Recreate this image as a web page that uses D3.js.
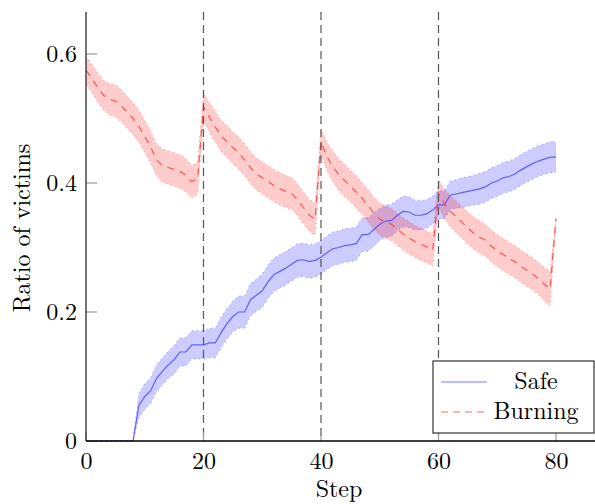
<!DOCTYPE html>
<html>
<head>
<meta charset="utf-8">
<script src="https://cdn.jsdelivr.net/npm/d3@7"></script>
<style>
  body { margin: 0; background: #fff; }
</style>
</head>
<body>
<svg id="chart" width="595" height="504"></svg>
<script>
// step index 0..80
var steps = d3.range(0, 81);

var safeMean = [
  0, 0, 0, 0, 0, 0, 0, 0, 0, 0.055,
  0.069, 0.078, 0.097, 0.108, 0.118, 0.126, 0.138, 0.138, 0.149, 0.149,
  0.149, 0.152, 0.152, 0.168, 0.182, 0.193, 0.200, 0.200, 0.219, 0.226,
  0.233, 0.247, 0.258, 0.263, 0.268, 0.274, 0.280, 0.281, 0.278, 0.280,
  0.285, 0.292, 0.298, 0.300, 0.303, 0.304, 0.306, 0.320, 0.320, 0.328,
  0.336, 0.341, 0.342, 0.350, 0.356, 0.355, 0.350, 0.350, 0.352, 0.358,
  0.366, 0.366, 0.381, 0.383, 0.385, 0.387, 0.389, 0.391, 0.394, 0.400,
  0.403, 0.408, 0.410, 0.414, 0.420, 0.425, 0.430, 0.434, 0.437, 0.440,
  0.440
];
var safeStd = [
  0, 0, 0, 0, 0, 0, 0, 0, 0, 0.019,
  0.020, 0.020, 0.021, 0.021, 0.021, 0.022, 0.022, 0.022, 0.022, 0.022,
  0.022, 0.023, 0.023, 0.024, 0.024, 0.024, 0.025, 0.025, 0.025, 0.025,
  0.026, 0.026, 0.026, 0.026, 0.026, 0.026, 0.026, 0.026, 0.026, 0.026,
  0.026, 0.026, 0.026, 0.026, 0.026, 0.026, 0.026, 0.026, 0.026, 0.026,
  0.025, 0.025, 0.025, 0.024, 0.024, 0.024, 0.023, 0.023, 0.022, 0.022,
  0.022, 0.022, 0.022, 0.022, 0.023, 0.023, 0.023, 0.024, 0.024, 0.024,
  0.024, 0.024, 0.024, 0.024, 0.024, 0.024, 0.024, 0.024, 0.024, 0.024,
  0.024
];
var burnMean = [
  0.575, 0.562, 0.548, 0.536, 0.530, 0.527, 0.520, 0.510, 0.500, 0.488,
  0.472, 0.456, 0.436, 0.427, 0.424, 0.421, 0.418, 0.412, 0.402, 0.407,
  0.518, 0.502, 0.487, 0.473, 0.464, 0.455, 0.446, 0.436, 0.424, 0.414,
  0.408, 0.402, 0.396, 0.391, 0.387, 0.384, 0.374, 0.362, 0.350, 0.344,
  0.464, 0.441, 0.426, 0.413, 0.404, 0.395, 0.386, 0.376, 0.365, 0.353,
  0.344, 0.339, 0.336, 0.328, 0.321, 0.315, 0.309, 0.305, 0.301, 0.296,
  0.384, 0.368, 0.356, 0.348, 0.339, 0.330, 0.322, 0.316, 0.311, 0.302,
  0.295, 0.289, 0.283, 0.278, 0.271, 0.265, 0.259, 0.252, 0.243, 0.236,
  0.345
];
var burnStd = [
  0.022, 0.022, 0.023, 0.023, 0.024, 0.025, 0.025, 0.025, 0.025, 0.025,
  0.025, 0.025, 0.025, 0.026, 0.026, 0.026, 0.026, 0.026, 0.025, 0.025,
  0.022, 0.023, 0.024, 0.024, 0.025, 0.025, 0.025, 0.025, 0.025, 0.025,
  0.025, 0.025, 0.025, 0.025, 0.025, 0.025, 0.025, 0.025, 0.025, 0.025,
  0.018, 0.022, 0.024, 0.025, 0.025, 0.025, 0.025, 0.025, 0.025, 0.025,
  0.025, 0.025, 0.025, 0.025, 0.025, 0.025, 0.025, 0.025, 0.025, 0.025,
  0.021, 0.023, 0.024, 0.025, 0.025, 0.025, 0.025, 0.025, 0.025, 0.025,
  0.025, 0.025, 0.025, 0.025, 0.025, 0.025, 0.025, 0.025, 0.026, 0.027,
  0.005
];
var xTicks = [0, 20, 40, 60, 80];
var yTicks = [0, 0.2, 0.4, 0.6];
var markers = [20, 40, 60];
var seriesNames = ["Safe", "Burning"];

var FONT = "'Latin Modern Roman'";
var FS = "24px";

var svg = d3.select("#chart");

var x = d3.scaleLinear().domain([0, 80]).range([86, 556]);
var y = d3.scaleLinear().domain([0, 0.6]).range([441, 54]);
var yTop = 12, xRight = 595;

function rows(mean, std) {
  return steps.map(function(s, i) { return {s: s, m: mean[i], d: std[i]}; });
}
var safe = rows(safeMean, safeStd);
var burn = rows(burnMean, burnStd);

var area = d3.area()
    .x(function(d) { return x(d.s); })
    .y0(function(d) { return y(d.m - d.d); })
    .y1(function(d) { return y(d.m + d.d); });
var line = d3.line()
    .x(function(d) { return x(d.s); })
    .y(function(d) { return y(d.m); });
var upper = d3.line().x(function(d) { return x(d.s); }).y(function(d) { return y(d.m + d.d); });
var lower = d3.line().x(function(d) { return x(d.s); }).y(function(d) { return y(d.m - d.d); });

var plot = svg.append("g");

// bands
[[safe, "#0000ff", "#2222ff"], [burn, "#ff0000", "#ff2222"]].forEach(function(c) {
  plot.append("path").attr("d", area(c[0]))
      .attr("fill", c[1]).attr("fill-opacity", 0.2).attr("stroke", "none");
  [upper, lower].forEach(function(g) {
    plot.append("path").attr("d", g(c[0]))
        .attr("fill", "none").attr("stroke", c[2]).attr("stroke-opacity", 0.45)
        .attr("stroke-width", 1).attr("stroke-dasharray", "1,4");
  });
});

// mean lines
plot.append("path").attr("d", line(safe))
    .attr("fill", "none").attr("stroke", "#4d4dff").attr("stroke-opacity", 0.85).attr("stroke-width", 1.2);
plot.append("path").attr("d", line(burn))
    .attr("fill", "none").attr("stroke", "#ff4040").attr("stroke-opacity", 0.85)
    .attr("stroke-width", 1.2).attr("stroke-dasharray", "7,6");

// vertical markers
plot.selectAll(".marker").data(markers).enter().append("line")
    .attr("x1", function(d) { return x(d); }).attr("x2", function(d) { return x(d); })
    .attr("y1", yTop).attr("y2", y(0))
    .attr("stroke", "#555").attr("stroke-width", 1.2).attr("stroke-dasharray", "8,5");

// axes
var xAxis = d3.axisBottom(x).tickValues(xTicks).tickSize(0).tickPadding(11).tickFormat(d3.format("d"));
var yAxis = d3.axisLeft(y).tickValues(yTicks).tickSize(0).tickPadding(9)
    .tickFormat(function(d) { return d === 0 ? "0" : d3.format(".1f")(d); });

var gx = svg.append("g").attr("transform", "translate(0," + y(0) + ")").call(xAxis);
var gy = svg.append("g").attr("transform", "translate(" + x(0) + ",0)").call(yAxis);
[gx, gy].forEach(function(g) {
  g.attr("font-family", null).attr("font-size", null);
  g.select(".domain").remove();
  g.selectAll("text").style("font-size", FS).style("font-family", FONT);
});
gy.selectAll("text").attr("dy", "0.3em");

// inner ticks
svg.selectAll(".xt").data(xTicks).enter().append("line")
    .attr("x1", function(d) { return x(d); }).attr("x2", function(d) { return x(d); })
    .attr("y1", y(0)).attr("y2", y(0) - 9).attr("stroke", "#999").attr("stroke-width", 1.2);
svg.selectAll(".yt").data(yTicks).enter().append("line")
    .attr("x1", x(0)).attr("x2", x(0) + 11)
    .attr("y1", function(d) { return y(d); }).attr("y2", function(d) { return y(d); })
    .attr("stroke", "#999").attr("stroke-width", 1.2);

svg.append("line").attr("x1", x(0)).attr("x2", x(0)).attr("y1", yTop).attr("y2", y(0))
    .attr("stroke", "#444").attr("stroke-width", 1.5);
svg.append("line").attr("x1", x(0)).attr("x2", xRight).attr("y1", y(0)).attr("y2", y(0))
    .attr("stroke", "#000").attr("stroke-width", 1.5);

// axis labels
svg.append("text").attr("x", 339).attr("y", 497).attr("text-anchor", "middle")
    .style("font-size", FS).style("font-family", FONT).text("Step");
svg.append("text").attr("transform", "translate(30,228) rotate(-90)").attr("text-anchor", "middle")
    .style("font-size", FS).style("font-family", FONT).text("Ratio of victims");

// legend
var lg = svg.append("g").attr("transform", "translate(433,361)");
lg.append("rect").attr("width", 161).attr("height", 72)
    .attr("fill", "#fff").attr("stroke", "#333").attr("stroke-width", 1.2);
var entries = lg.selectAll(".entry").data(seriesNames).enter().append("g")
    .attr("transform", function(d, i) { return "translate(0," + (21 + i * 30) + ")"; });
entries.append("line").attr("x1", 8).attr("x2", 54).attr("y1", 0).attr("y2", 0)
    .attr("stroke", function(d, i) { return i === 0 ? "#a6a6ff" : "#ff9a9a"; })
    .attr("stroke-width", 1.5)
    .attr("stroke-dasharray", function(d, i) { return i === 0 ? null : "7,5"; });
entries.append("text").attr("x", 103).attr("y", 7).attr("text-anchor", "middle")
    .style("font-size", FS).style("font-family", FONT).text(function(d) { return d; });
</script>
</body>
</html>
